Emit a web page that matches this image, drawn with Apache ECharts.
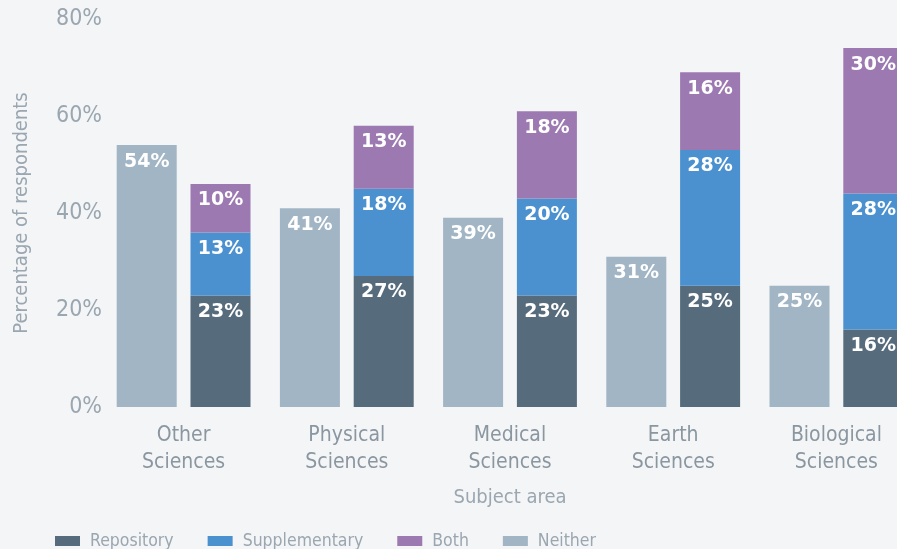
<!DOCTYPE html>
<html><head><meta charset="utf-8">
<script src="https://cdn.jsdelivr.net/npm/echarts@6/dist/echarts.min.js"></script>
<style>html,body{margin:0;padding:0;background:#f4f5f7;overflow:hidden;width:897px;height:549px;}#c{width:920px;height:549px;}</style>
</head><body><div id="c"></div>
<script>
var categories = ['Other\nSciences', 'Physical\nSciences', 'Medical\nSciences', 'Earth\nSciences', 'Biological\nSciences'];
var repository = [23, 27, 23, 25, 16];
var supplementary = [13, 18, 20, 28, 28];
var both = [10, 13, 18, 16, 30];
var neither = [54, 41, 39, 31, 25];
var yTicks = [0, 20, 40, 60, 80];

var FONT = '"DejaVu Sans Condensed","DejaVu Sans",sans-serif';
var GRAY = '#9aa6b0';
var lbl = {show: true, position: 'insideTop', distance: 7, color: '#ffffff', fontFamily: 'DejaVu Sans', fontWeight: 'bold', fontSize: 19, formatter: '{c}%'};
function mk(name, data, color, stack) {
  return {name: name, type: 'bar', stack: stack, data: data, barWidth: 60, barGap: '23%',
    itemStyle: {color: color}, label: lbl, emphasis: {disabled: true}};
}
var chart = echarts.init(document.getElementById('c'));
chart.setOption({
  backgroundColor: '#f4f5f7',
  animation: false,
  grid: {left: 102, right: 2, top: 19, bottom: 142},
  legend: {data: ['Repository', 'Supplementary', 'Both', 'Neither'], left: 50, top: 527, itemWidth: 25, itemHeight: 10, itemGap: 34,
    textStyle: {color: GRAY, fontFamily: FONT, fontSize: 17.5, padding: [0, 0, 0, 5]}, icon: 'rect'},
  xAxis: {type: 'category', data: categories, name: 'Subject area', nameLocation: 'middle', nameGap: 81,
    nameTextStyle: {color: GRAY, fontFamily: FONT, fontSize: 20},
    axisLine: {show: false}, axisTick: {show: false},
    axisLabel: {color: '#8a96a0', fontFamily: FONT, fontSize: 21, lineHeight: 27, margin: 15}},
  yAxis: {type: 'value', min: yTicks[0], max: yTicks[yTicks.length - 1], interval: 20,
    name: 'Percentage of respondents', nameLocation: 'middle', nameGap: 70,
    nameTextStyle: {color: GRAY, fontFamily: FONT, fontSize: 20},
    axisLine: {show: false}, axisTick: {show: false}, splitLine: {show: false},
    axisLabel: {color: GRAY, fontFamily: FONT, fontSize: 23, margin: 0, formatter: '{value}%'}},
  series: [
    mk('Neither', neither, '#a1b5c4', 'n'),
    mk('Repository', repository, '#566b7c', 'a'),
    mk('Supplementary', supplementary, '#4b91cf', 'a'),
    mk('Both', both, '#9c79b1', 'a')
  ]
});
</script></body></html>
